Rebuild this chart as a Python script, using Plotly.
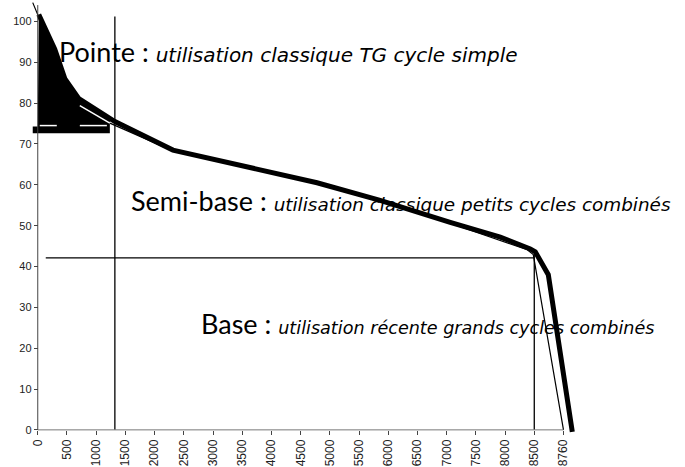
import plotly.graph_objects as go

# Duration axis: one tick every 500 h, the last tick stands for 8760 h
tick_pos = list(range(0, 9001, 500))
tick_text = [str(v) for v in range(0, 8501, 500)] + ["8760"]

# Thick load-duration curve (axis position, % of peak load)
bold_x = [17, 154, 291, 463, 703, 1320, 2314, 4781, 5861, 7061, 7918, 8432, 8517, 8740, 9151]
bold_y = [101.7, 97.3, 93.2, 86.0, 81.1, 75.5, 68.5, 60.5, 56.2, 50.8, 47.2, 44.3, 43.6, 38.0, -0.5]

# Thin load-duration curve
thin_x = [-86, 103, 377, 720, 1234, 2314, 4781, 5861, 7061, 7918, 8380, 8483, 9000]
thin_y = [104.6, 98.1, 87.9, 79.4, 75.1, 68.3, 60.3, 55.9, 50.6, 46.5, 44.1, 42.9, 0.0]

# Black "pointe" block under the top of the curve
pointe_x = [-86, -86, 0, 17, 154, 291, 463, 703, 1234, 1234]
pointe_y = [72.6, 74.3, 74.3, 101.7, 97.3, 93.2, 86.0, 81.1, 75.8, 72.6]

# White gaps in the block base
gap_x = [34, 326, None, 720, 1183]
gap_y = [74.5, 74.5, None, 74.5, 74.5]

# Zone boundaries
pointe_limit_h = 1320
base_limit_h = 8500
base_level = 42.1

fig = go.Figure()

fig.add_trace(go.Scatter(x=pointe_x, y=pointe_y, fill="toself", fillcolor="black",
                         mode="lines", line=dict(width=0, color="black"),
                         hoverinfo="skip", showlegend=False))
fig.add_trace(go.Scatter(x=thin_x, y=thin_y, mode="lines",
                         line=dict(color="black", width=1.2), showlegend=False))
# part of the thin curve that runs through the black block
fig.add_trace(go.Scatter(x=thin_x[3:5], y=thin_y[3:5], mode="lines",
                         line=dict(color="white", width=1.5), showlegend=False))
fig.add_trace(go.Scatter(x=gap_x, y=gap_y, mode="lines", connectgaps=False,
                         line=dict(color="white", width=1.5), showlegend=False))
fig.add_trace(go.Scatter(x=bold_x, y=bold_y, mode="lines",
                         line=dict(color="black", width=5), showlegend=False))

line_style = dict(color="black", width=1.3)
fig.add_shape(type="line", x0=pointe_limit_h, x1=pointe_limit_h, y0=0, y1=101.2, line=line_style)
fig.add_shape(type="line", x0=137, x1=base_limit_h, y0=base_level, y1=base_level, line=line_style)
fig.add_shape(type="line", x0=base_limit_h, x1=base_limit_h, y0=0, y1=base_level + 0.8, line=line_style)

# Axis lines
fig.add_shape(type="line", x0=0, x1=0, y0=0, y1=104, line=dict(color="#444", width=1))
fig.add_shape(type="line", x0=0, x1=9000, y0=0, y1=0, line=dict(color="#777", width=1))

labels = [
    (330, 92.7, "Pointe", "utilisation classique TG cycle simple", 20),
    (1560, 56.2, "Semi-base", "utilisation classique petits cycles combinés", 18.4),
    (2760, 26.1, "Base", "utilisation récente grands cycles combinés", 17.6),
]
for x, y, zone, use, use_size in labels:
    fig.add_annotation(
        x=x, y=y, xref="x", yref="y", xanchor="left", yanchor="middle",
        showarrow=False,
        text=(f"<span style='font-size:27px'>{zone} :</span> "
              f"<span style='font-family:DejaVu Sans;font-size:{use_size}px'><i>{use}</i></span>"),
        font=dict(family="Lato", size=27, color="black"),
    )

fig.update_layout(
    width=685, height=467,
    margin=dict(l=29, r=104, t=1, b=26),
    paper_bgcolor="white", plot_bgcolor="white",
    xaxis=dict(range=[-150, 9300], tickvals=tick_pos, ticktext=tick_text,
               tickangle=-90, showgrid=False, zeroline=False, showline=False,
               ticks="outside", ticklen=4, tickcolor="#444",
               anchor="free", position=1.5 / 106.5,
               tickfont=dict(family="Liberation Sans", size=12, color="#222")),
    yaxis=dict(range=[-1.5, 105], tickvals=list(range(0, 101, 10)),
               showgrid=False, zeroline=False, showline=False,
               ticks="outside", ticklen=4, tickcolor="#444",
               anchor="free", position=150 / 9450,
               tickfont=dict(family="Liberation Sans", size=11, color="#222")),
)

fig.write_html("out.html")
